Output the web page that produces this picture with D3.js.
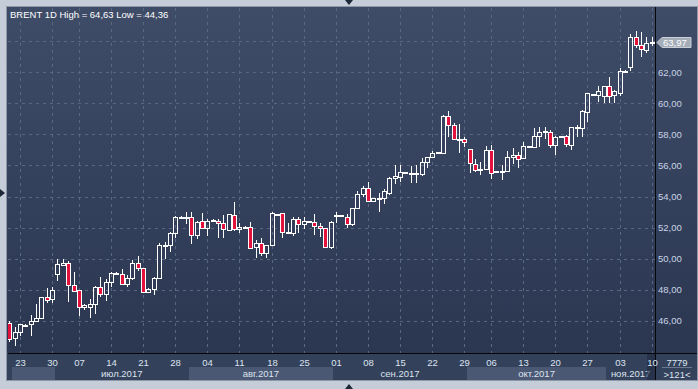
<!DOCTYPE html>
<html><head><meta charset="utf-8">
<script src="https://cdn.jsdelivr.net/npm/d3@7"></script>
<style>html,body{margin:0;padding:0;background:#c5cdd9;overflow:hidden}svg{display:block}</style>
</head><body><svg id="c" width="698" height="389"></svg>
<script>
const title = "BRENT 1D High = 64,63 Low = 44,36";
const openV = [45.85,44.86,45.29,45.65,45.76,45.95,46.17,47.5,47.37,48.98,
 49.58,49.69,48.30,47.97,46.86,46.9,47.07,48.19,47.7,48.47,
 49.0,49.02,48.38,48.72,49.69,49.37,47.87,48.02,48.72,50.85,
 50.87,51.62,52.62,52.64,52.7,51.52,52.42,51.95,52.45,52.42,
 52.27,51.84,52.8,51.88,52.03,52.01,50.77,51.02,50.34,50.87,
 52.85,52.91,51.65,51.62,52.53,52.2,52.36,52.33,52.1,51.95,
 50.77,52.78,52.78,52.7,52.2,53.24,54.16,54.52,53.73,53.85,
 53.92,54.25,55.17,55.23,55.53,55.5,55.5,55.45,56.2,56.52,
 56.82,56.82,59.18,58.6,57.66,57.68,57.03,56.07,55.75,55.77,
 56.99,55.55,55.62,55.66,56.52,56.67,56.45,57.2,57.21,57.92,
 58.19,58.17,57.31,57.87,57.89,57.31,58.47,58.43,59.46,60.56,
 60.54,60.47,61.12,60.54,60.69,62.08,62.36,64.25,63.76,63.44,63.87];
const highV = [45.95,45.61,45.8,45.8,46.36,47.1,47.55,48.08,48.15,49.97,
 49.95,49.84,49.16,48.0,47.07,47.37,48.23,48.79,48.66,49.16,
 49.12,49.33,48.94,49.88,50.18,49.4,48.08,48.83,50.98,51.05,
 51.73,52.76,52.76,52.98,53.02,52.42,52.91,52.55,52.56,52.58,
 52.8,52.87,53.62,52.31,52.08,52.38,51.2,51.35,50.9,53.0,
 52.9,52.96,52.31,52.7,52.7,52.7,52.4,52.87,52.27,51.99,
 52.44,53.02,52.82,52.87,53.24,54.35,54.7,54.93,53.9,54.2,
 54.48,55.23,56.03,56.0,55.6,55.94,56.03,56.46,56.55,56.95,
 56.86,59.25,59.5,58.71,58.67,57.85,57.05,56.39,56.24,57.25,
 57.32,55.65,56.03,56.9,57.1,56.84,57.53,57.25,58.43,58.49,
 58.49,58.28,57.88,57.91,57.96,58.49,58.6,59.55,60.64,60.62,
 61.1,61.12,61.68,60.86,62.25,62.12,64.47,64.63,64.6,64.25,64.25];
const lowV = [44.6,44.36,45.0,45.6,45.0,45.9,46.1,47.16,47.16,48.58,
 49.55,47.18,47.82,46.32,46.68,46.15,46.43,47.54,47.27,48.2,
 48.95,48.3,48.17,48.62,49.2,47.8,47.76,47.65,48.68,50.0,
 50.44,51.34,52.58,52.22,50.92,51.26,51.88,51.47,52.38,51.34,
 51.3,51.8,51.8,51.62,52.0,50.59,50.06,50.19,50.01,50.8,
 52.83,51.3,51.56,51.47,51.62,51.9,52.34,51.52,51.41,50.66,
 50.59,52.27,52.76,51.95,52.1,53.2,53.94,53.62,53.7,53.02,
 53.51,54.1,54.8,54.92,55.5,54.85,54.85,55.32,55.84,56.5,
 56.8,56.78,57.81,57.64,56.82,57.17,55.53,55.6,55.38,55.7,
 55.12,55.5,55.06,55.6,56.09,55.81,56.4,57.18,57.1,57.16,
 57.7,57.1,56.7,57.85,57.16,56.99,57.85,57.85,58.82,60.54,
 60.11,60.0,60.0,60.04,60.47,62.06,62.1,63.54,62.96,63.22,63.7];
const closeV = [44.8,45.29,45.76,45.72,46.0,46.2,47.5,47.35,47.97,49.65,
 49.74,48.30,47.93,46.86,47.0,47.07,48.19,47.7,48.47,49.09,
 49.09,48.38,48.72,49.69,49.37,47.87,48.02,48.72,50.87,50.9,
 51.62,52.66,52.66,52.68,51.52,52.33,51.95,52.42,52.48,52.27,
 51.88,52.85,51.88,52.01,52.06,50.66,50.98,50.34,50.87,52.96,
 52.87,51.69,51.69,52.53,52.2,52.42,52.39,52.1,51.95,50.77,
 52.33,52.8,52.8,52.2,53.24,54.16,54.52,53.73,53.88,53.9,
 54.35,55.17,55.32,55.55,55.56,55.54,55.52,56.2,56.52,56.8,
 56.85,59.18,58.6,57.68,57.7,57.49,56.13,55.7,55.8,56.99,
 55.53,55.62,55.66,56.56,56.67,56.41,57.25,57.23,57.92,58.13,
 58.22,57.31,57.85,57.9,57.38,58.49,58.5,59.53,60.64,60.6,
 60.81,61.12,60.47,60.8,62.1,62.1,64.25,63.76,63.48,63.87,63.97];
const tickLabels = ["23","30","07","14","21","28","04","11","18","25","01","08","15","22","29","06","13","20","27","03","10"];
const tickIndex = [2,8,13,19,25,31,37,43,49,55,61,67,73,79,85,90,96,102,108,114,120];
const monthLabels = ["","июл.2017","авг.2017","сен.2017","окт.2017","ноя.2017"];
const monthStart = [1,9,34,61,86,112];
const priceLabels = [46,48,50,52,54,56,58,60,62];
const gridPrices = [46,48,50,52,54,56,58,60,62,64];
const lastPrice = "63,97";
const volumeText = "7779";
const barsText = ">121<";

const svg = d3.select("#c");
const L = 8, R = 655, T = 8, B = 353, AX = 380, RIGHT = 697;
const FONT = "'Liberation Sans', Arial, sans-serif";
const n = openV.length;
const x = d3.scaleBand().domain(d3.range(n)).range([6.6, 654.4]);
const y = d3.scaleLinear().domain([46, 62]).range([320.7, 72.3]);
const cx = i => Math.round(x(i) + x.bandwidth() / 2);
const fmt = v => d3.format(".2f")(v).replace(".", ",");

const defs = svg.append("defs");
const g1 = defs.append("linearGradient").attr("id", "bg").attr("x1", 0).attr("y1", 0).attr("x2", 0).attr("y2", 1);
g1.append("stop").attr("offset", "0%").attr("stop-color", "#3f4c68");
g1.append("stop").attr("offset", "100%").attr("stop-color", "#2b3751");
defs.append("clipPath").attr("id", "clip").append("rect").attr("x", L).attr("y", T).attr("width", R - L).attr("height", B - T);

// outer background
svg.append("rect").attr("width", 698).attr("height", 389).attr("fill", "#c5cdd9");
// main panel
svg.append("rect").attr("x", L - 1).attr("y", T - 1).attr("width", RIGHT - L + 1).attr("height", B - T + 1).attr("fill", "url(#bg)");
svg.append("rect").attr("x", L - 1).attr("y", B).attr("width", RIGHT - L + 1).attr("height", AX - B).attr("fill", "#34415b");

// month bands
monthStart.forEach((s, k) => {
  const x0 = x(s);
  const x1 = k + 1 < monthStart.length ? x(monthStart[k + 1]) : R;
  if (k % 2 === 0) {
    svg.append("rect").attr("x", Math.round(x0)).attr("y", 367).attr("width", Math.round(x1) - Math.round(x0)).attr("height", 13).attr("fill", "#4a5873");
  }
  if (monthLabels[k]) {
    svg.append("text").attr("x", (x0 + x1) / 2).attr("y", 377).attr("text-anchor", "middle")
      .attr("font-family", FONT).attr("font-size", 9.5).attr("fill", "#dde4f0").text(monthLabels[k]);
  }
});
// highlight of the current bar column in the axis
svg.append("rect").attr("x", x(n - 1) - 2).attr("y", B + 1).attr("width", R - x(n - 1) + 2).attr("height", AX - B - 1)
  .attr("fill", "#1f2a40").attr("opacity", 0.6);

// grid
const grid = svg.append("g").attr("stroke", "#5a6781").attr("stroke-dasharray", "3,4").attr("stroke-width", 1);
gridPrices.forEach(p => {
  const yy = Math.round(y(p)) + 0.5;
  grid.append("line").attr("x1", L).attr("x2", R).attr("y1", yy).attr("y2", yy);
});
tickIndex.forEach(i => {
  const xx = cx(i) + 0.5;
  grid.append("line").attr("x1", xx).attr("x2", xx).attr("y1", T).attr("y2", B);
});

// candles
const cg = svg.append("g").attr("clip-path", "url(#clip)");
for (let i = 0; i < n; i++) {
  const o = openV[i], c = closeV[i], h = highV[i], l = lowV[i];
  const xc = cx(i);
  const top = Math.round(y(Math.max(o, c)));
  let bot = Math.round(y(Math.min(o, c)));
  if (bot - top < 1) bot = top + 1;
  const yh = Math.round(y(h)), yl = Math.round(y(l));
  if (yh < top) cg.append("line").attr("x1", xc + 0.5).attr("x2", xc + 0.5).attr("y1", yh).attr("y2", top).attr("stroke", "#fff");
  if (yl > bot) cg.append("line").attr("x1", xc + 0.5).attr("x2", xc + 0.5).attr("y1", bot).attr("y2", yl).attr("stroke", "#fff");
  cg.append("rect").attr("x", xc - 1.5).attr("y", top + 0.5).attr("width", 4).attr("height", bot - top)
    .attr("fill", c < o ? "#e3123c" : "none").attr("stroke", "#fff").attr("stroke-width", 1);
}

// axis lines
svg.append("line").attr("x1", L).attr("x2", RIGHT).attr("y1", B + 0.5).attr("y2", B + 0.5).attr("stroke", "#05070b");
svg.append("line").attr("x1", R + 0.5).attr("x2", R + 0.5).attr("y1", T - 1).attr("y2", AX).attr("stroke", "#05070b");
svg.append("rect").attr("x", L - 1.5).attr("y", T - 1.5).attr("width", RIGHT - L + 2).attr("height", AX - T + 2)
  .attr("fill", "none").attr("stroke", "#8d97a8");

// price labels
priceLabels.forEach(p => {
  svg.append("text").attr("x", 658).attr("y", y(p) + 3.5).attr("font-family", FONT).attr("font-size", 9.5)
    .attr("fill", "#c9d3e6").text(fmt(p));
});
// last price tag
const yl = Math.round(y(closeV[n - 1]));
svg.append("path").attr("d", `M${R + 2},${yl + 0.5} L${R + 7},${yl - 4.5} L${R + 36},${yl - 4.5} L${R + 36},${yl + 5.5} L${R + 7},${yl + 5.5} Z`)
  .attr("fill", "#a4acb8").attr("stroke", "#c8ced8");
svg.append("text").attr("x", R + 8).attr("y", yl + 4).attr("font-family", FONT).attr("font-size", 9.5)
  .attr("fill", "#ffffff").text(lastPrice);

// date labels
tickIndex.forEach((i, k) => {
  svg.append("text").attr("x", cx(i) + 0.5).attr("y", 366).attr("text-anchor", "middle").attr("font-family", FONT)
    .attr("font-size", 9.5).attr("fill", "#dde4f0").text(tickLabels[k]);
});
// bottom right box
svg.append("text").attr("x", 677).attr("y", 366).attr("text-anchor", "middle").attr("font-family", FONT)
  .attr("font-size", 9.5).attr("fill", "#dde4f0").text(volumeText);
svg.append("line").attr("x1", 662).attr("x2", 692).attr("y1", 367.5).attr("y2", 367.5).attr("stroke", "#6d7a93");
svg.append("text").attr("x", 677).attr("y", 378).attr("text-anchor", "middle").attr("font-family", FONT)
  .attr("font-size", 9.5).attr("fill", "#dde4f0").text(barsText);

// title
svg.append("text").attr("x", 10).attr("y", 17.5).attr("font-family", FONT).attr("font-size", 9.5)
  .attr("fill", "#ffffff").text(title);

// small arrow markers on the frame
svg.append("path").attr("d", "M345,0 L353,0 L349,5 Z").attr("fill", "#1c2738");
svg.append("path").attr("d", "M345,389 L353,389 L349,384 Z").attr("fill", "#1c2738");
svg.append("path").attr("d", "M0,189 L0,197 L5,193 Z").attr("fill", "#1c2738");
</script></body></html>
